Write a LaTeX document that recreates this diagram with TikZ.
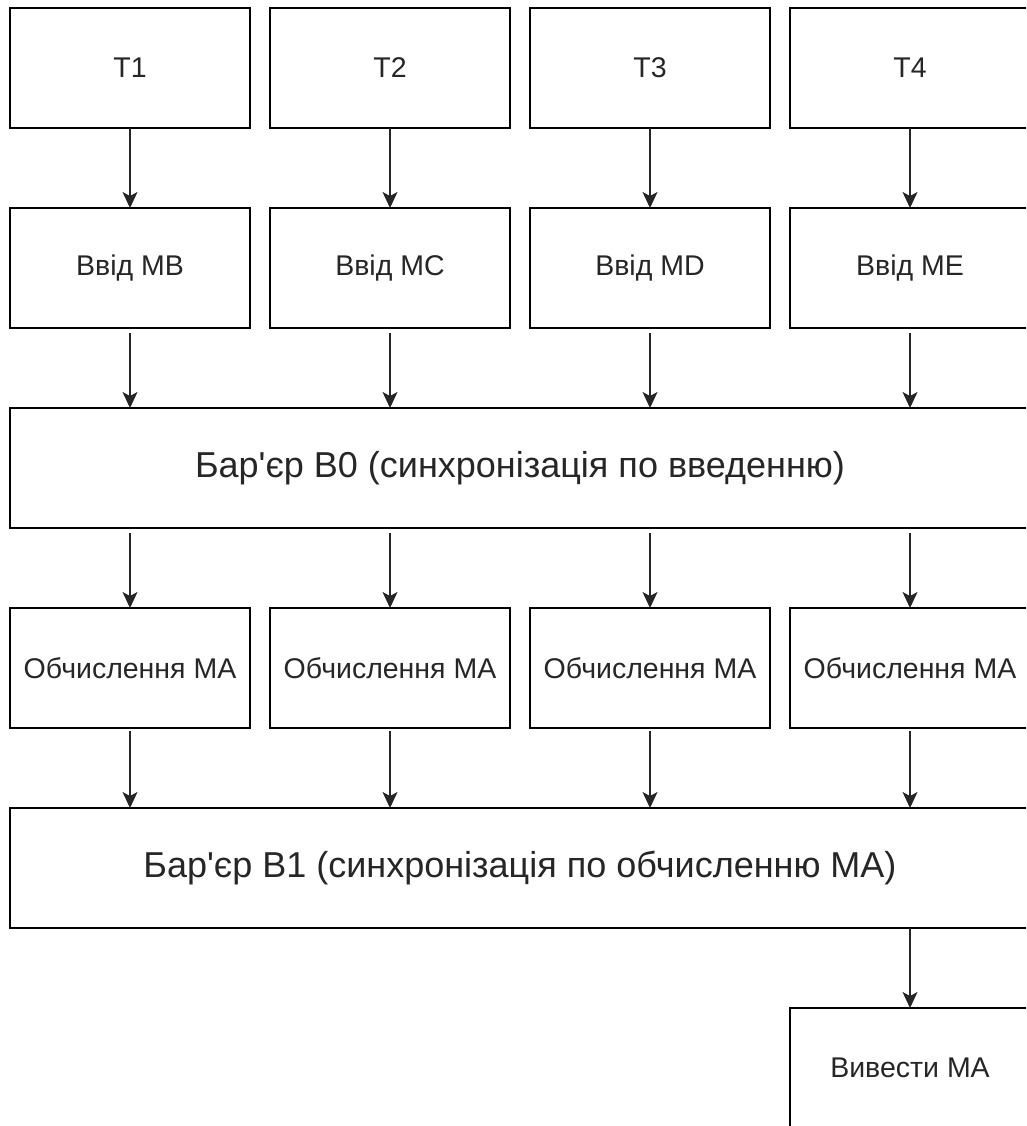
\documentclass[tikz,border=0pt]{standalone}
\usepackage{fontspec}
\setmainfont{Liberation Sans}[Ligatures=TeXOff]
\usetikzlibrary{arrows.meta}
\begin{document}
\begin{tikzpicture}[x=1pt,y=-1pt,
  box/.style={draw=black, line width=1.6pt, minimum width=240pt, minimum height=120pt,
    inner sep=0pt, outer sep=0pt, font=\fontsize{28.5}{34}\selectfont, text=black!85},
  bar/.style={box, minimum width=1020pt, font=\fontsize{36}{43}\selectfont},
  arr/.style={line width=1.6pt, draw=black!85, -{Stealth[length=16pt,width=15pt,inset=4pt]}}]
\clip (0,0) rectangle (1026,1126);
\fill[white] (0,0) rectangle (1026,1126);
% row 1
\node[box] (t1) at (130,68) {T1};
\node[box] (t2) at (390,68) {T2};
\node[box] (t3) at (650,68) {T3};
\node[box] (t4) at (910,68) {T4};
% row 2
\node[box] (v1) at (130,268) {Ввід MB};
\node[box] (v2) at (390,268) {Ввід MC};
\node[box] (v3) at (650,268) {Ввід MD};
\node[box] (v4) at (910,268) {Ввід ME};
% barrier 0
\node[bar] (b0) at (520,468) {Бар'єр B0 (синхронізація по введенню)};
% row 3
\node[box] (c1) at (130,668) {Обчислення МА};
\node[box] (c2) at (390,668) {Обчислення МА};
\node[box] (c3) at (650,668) {Обчислення МА};
\node[box] (c4) at (910,668) {Обчислення МА};
% barrier 1
\node[bar] (b1) at (520,868) {Бар'єр B1 (синхронізація по обчисленню MA)};
% output
\node[box] (out) at (910,1068) {Вивести МА};
% arrows
\foreach \i in {1,2,3,4}{
  \draw[arr] (t\i.south) -- (v\i.north);
  \draw[arr, shorten <=5pt] (v\i.south) -- (v\i.south |- b0.north);
  \draw[arr, shorten <=5pt] (c\i.north |- b0.south) -- (c\i.north);
  \draw[arr, shorten <=3pt] (c\i.south) -- (c\i.south |- b1.north);
}
\draw[arr] (out.north |- b1.south) -- (out.north);
\end{tikzpicture}
\end{document}
